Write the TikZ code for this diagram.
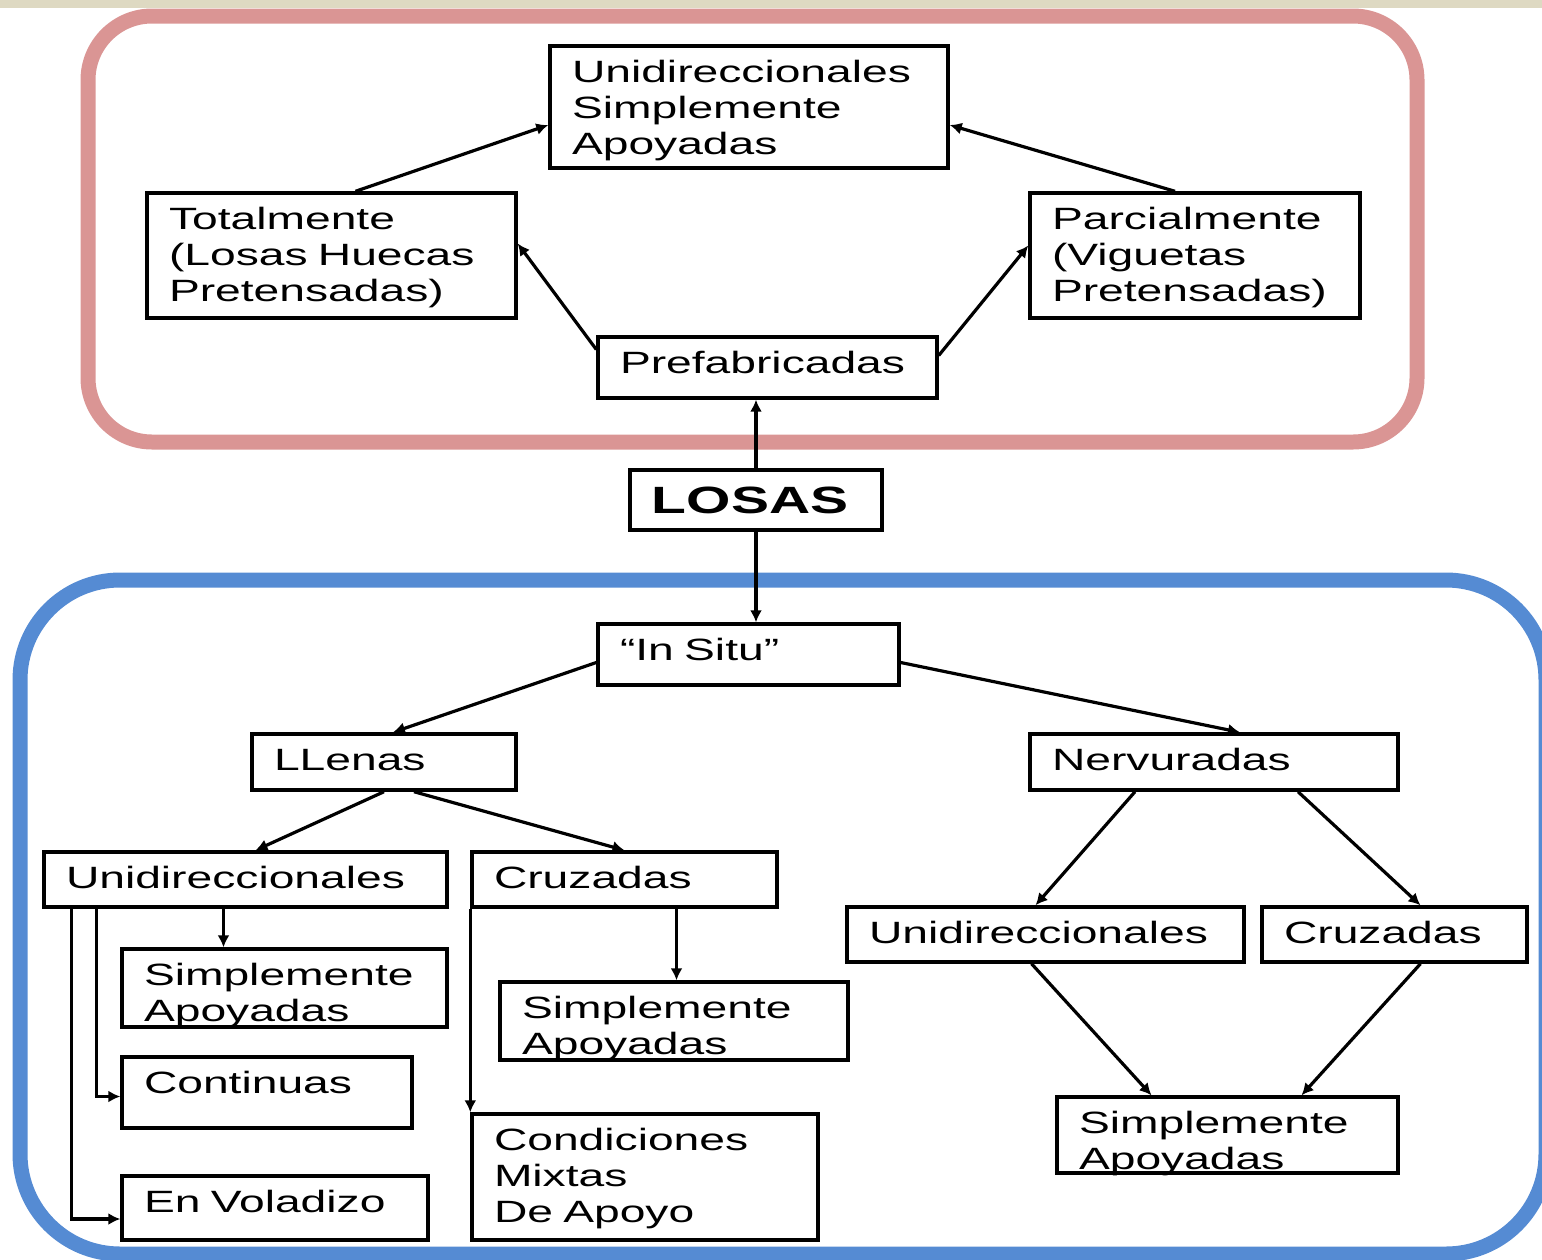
\documentclass[tikz,border=0pt]{standalone}
\usepackage{fontspec}
\setmainfont{Liberation Sans}[FakeStretch=1.5]
\usetikzlibrary{calc,positioning,arrows.meta}
\definecolor{frpink}{RGB}{218,149,148}
\definecolor{frblue}{RGB}{85,139,211}
\definecolor{topband}{RGB}{222,217,194}
\tikzset{
  cellbox/.style={draw=black,line width=1.7pt,align=left,inner xsep=11pt,inner ysep=0pt,font=\fontsize{15.4}{18}\selectfont},
  conn/.style={draw=black,line width=1.6pt,-{Latex[length=6pt,width=6pt]}},
  framepink/.style={draw=frpink,line width=7.5pt,rounded corners=32pt},
  frameblue/.style={draw=frblue,line width=7.5pt,rounded corners=50pt},
}
\newcommand{\lbox}[6]{%
  \node[cellbox,text height=18pt,text depth={(#5-#3)*0.5pt-18pt},text width={(#4-#2)*0.5pt-22pt}]
    (#1) at ({(#2+#4)/2},{(#3+#5)/2}) {#6};}

\begin{document}
\begin{tikzpicture}[x=0.5pt,y=-0.5pt]
  \useasboundingbox (0,0) rectangle (1542,1259);
  \draw[framepink] (88,16) rectangle (1417,442);
  \draw[frameblue] (20,580) rectangle (1546,1254);
  \fill[topband] (0,0) rectangle (1542,8);
  \lbox{uni}{550}{46}{948}{168}{Unidireccionales\\Simplemente\\Apoyadas}
  \lbox{tot}{147}{193}{516}{318}{Totalmente\\(Losas Huecas\\Pretensadas)}
  \lbox{par}{1030}{193}{1360}{318}{Parcialmente\\(Viguetas\\Pretensadas)}
  \lbox{pre}{598}{337}{937}{398}{Prefabricadas}
  \node[cellbox,align=center,inner xsep=0pt,minimum width=126pt,minimum height=30pt,
    font=\bfseries\fontsize{19}{22}\selectfont] (losas) at (756,500) {LOSAS\hspace{6pt}};
  \lbox{ins}{598}{624}{899}{685}{“In Situ”}
  \lbox{lle}{252}{734}{516}{790}{LLenas}
  \lbox{ner}{1030}{734}{1398}{790}{Nervuradas}
  \lbox{luni}{44}{852}{447}{907}{Unidireccionales}
  \lbox{lcru}{472}{852}{777}{907}{Cruzadas}
  \lbox{lsim}{122}{949}{447}{1027}{Simplemente\\Apoyadas}
  \lbox{cont}{122}{1057}{412}{1128}{Continuas}
  \lbox{vol}{122}{1176}{428}{1240}{En Voladizo}
  \lbox{msim}{500}{982}{848}{1060}{Simplemente\\Apoyadas}
  \lbox{cond}{472}{1114}{818}{1240}{Condiciones\\Mixtas\\De Apoyo}
  \lbox{runi}{847}{907}{1244}{962}{Unidireccionales}
  \lbox{rcru}{1262}{907}{1527}{962}{Cruzadas}
  \lbox{rsim}{1057}{1097}{1398}{1173}{Simplemente\\Apoyadas}
  \draw[conn] ([xshift=12pt]tot.north) -- ([yshift=-9pt]uni.west);
  \draw[conn] ([xshift=-10pt]par.north) -- ([yshift=-9pt]uni.east);
  \draw[conn] ([yshift=9pt]pre.west) -- ([yshift=6pt]tot.east);
  \draw[conn] ([yshift=6pt]pre.east) -- ([yshift=5pt]par.west);
  \draw[conn] (losas.north) -- (losas.north |- pre.south);
  \draw[conn] (losas.south) -- (losas.south |- ins.north);
  \draw[conn] ([yshift=-4pt]ins.west) -- ([xshift=4.5pt]lle.north);
  \draw[conn] ([yshift=-4pt]ins.east) -- ([xshift=13pt]ner.north);
  \draw[conn] (lle.south) -- ([xshift=5pt]luni.north);
  \draw[conn] ([xshift=15pt]lle.south) -- (lcru.north);
  \draw[conn] ([xshift=-11pt]luni.south) -- ([xshift=-11pt]luni.south |- lsim.north);
  \draw[conn] ([xshift=27pt]luni.south west) |- ([yshift=-2pt]cont.west);
  \draw[conn] ([xshift=14.5pt]luni.south west) |- ([yshift=-5.5pt]vol.west);
  \draw[conn] ([xshift=26pt]lcru.south) -- ([xshift=26pt]lcru.south |- msim.north);
  \draw[conn] (lcru.south west) -- (cond.north west);
  \draw[conn] ([xshift=-39.5pt]ner.south) -- ([xshift=-5pt]runi.north);
  \draw[conn] ([xshift=42pt]ner.south) -- ([xshift=13pt]rcru.north);
  \draw[conn] ([xshift=-7pt]runi.south) -- ([xshift=-38pt]rsim.north);
  \draw[conn] ([xshift=13pt]rcru.south) -- ([xshift=37pt]rsim.north);
\end{tikzpicture}
\end{document}
